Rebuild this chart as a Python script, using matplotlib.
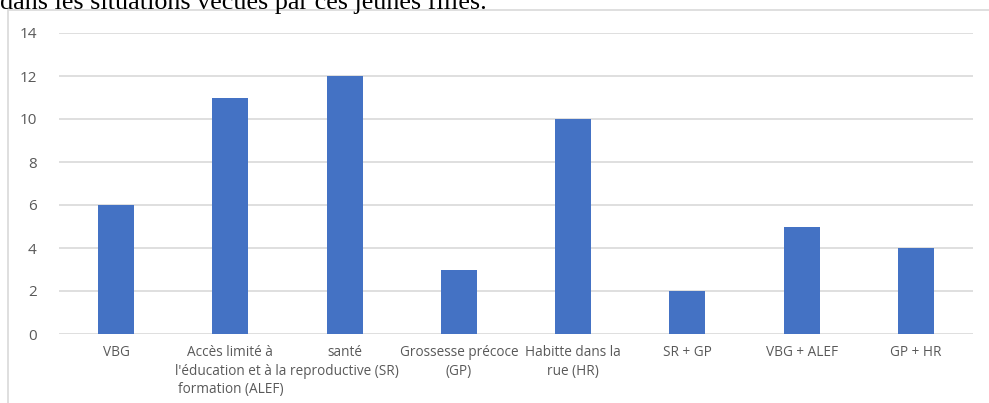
import matplotlib.pyplot as plt
from matplotlib.patches import Rectangle

categories = ["VBG", "Accès limité à\nl'éducation et à la\nformation (ALEF)", "santé\nreproductive (SR)",
              "Grossesse précoce\n(GP)", "Habitte dans la\nrue (HR)", "SR + GP", "VBG + ALEF", "GP + HR"]
values = [6, 11, 12, 3, 10, 2, 5, 4]
yticks = [0, 2, 4, 6, 8, 10, 12, 14]

W, H = 989, 403
fig = plt.figure(figsize=(W / 100, H / 100), dpi=100)

# chart frame from the document
fig.patches.append(Rectangle((8 / W, -0.1), 1.1, 1.1 - 10 / H, transform=fig.transFigure,
                             fill=False, edgecolor="#d9d9d9", linewidth=1.2))
# clipped caption line from the surrounding page
fig.text(0, 1 - 9 / H, "dans les situations vécues par ces jeunes filles.",
         family="Liberation Serif", fontsize=18.8, color="black", va="baseline", ha="left")

ax = fig.add_axes([59 / W, 1 - 334 / H, (973 - 59) / W, (334 - 33) / H])
x = range(len(categories))
ax.bar(x, values, width=0.315, color="#4472C4", zorder=3)
ax.set_xlim(-0.5, len(categories) - 0.5)
ax.set_ylim(0, 14)
ax.set_yticks(yticks)
ax.set_xticks(list(x))
ax.set_xticklabels(categories, fontsize=9.8, color="#595959", family="Open Sans", linespacing=1.32)
ax.tick_params(axis="y", labelsize=11, labelcolor="#595959", length=0, pad=16)
ax.tick_params(axis="x", length=0, pad=8)
for lab in ax.get_yticklabels():
    lab.set_family("Open Sans")
ax.grid(axis="y", color="#d9d9d9", linewidth=1.2, zorder=0)
for s in ax.spines.values():
    s.set_visible(False)

fig.savefig("out.png", dpi=100)
